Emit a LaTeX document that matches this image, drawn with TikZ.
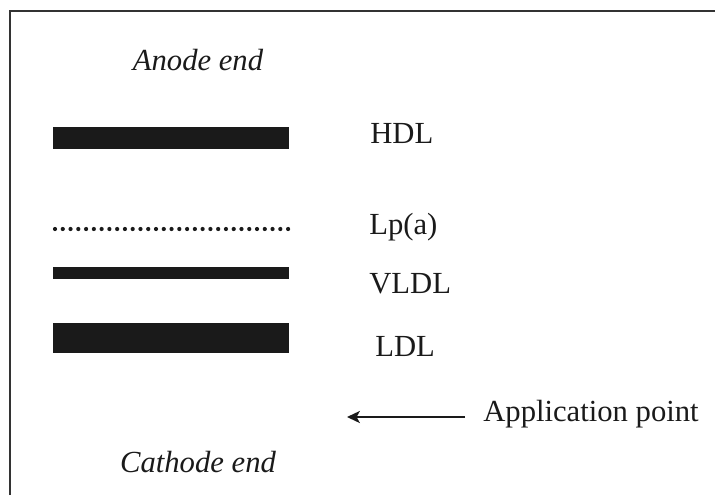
\documentclass[tikz,border=0pt]{standalone}
\usepackage{fontspec}
\setmainfont{Liberation Serif}
\usepackage{xcolor}
\usetikzlibrary{arrows.meta}

\definecolor{ink}{HTML}{1A1A1A}
\definecolor{frame}{HTML}{333333}

\begin{document}
\begin{tikzpicture}[
  x=0.025cm, y=-0.025cm,
  every node/.style={text=ink, font=\fontsize{21.8}{26}\selectfont, inner sep=0pt},
  band/.style={fill=ink, draw=none, minimum width=5.9cm, inner sep=0pt},
  label/.style={anchor=base west},
  pointer/.style={draw=ink, line width=1.6pt, -{Stealth[length=3.2mm, width=3mm, inset=0.8mm]}},
  ]
  \useasboundingbox (0,0) rectangle (715,495);
  % frame
  \draw[frame, line width=1.5pt] (10,495) -- (10,11) -- (715,11);
  % ends
  \node[anchor=base, font=\fontsize{21.8}{26}\selectfont\itshape] (anode) at (198,70) {Anode end};
  \node[anchor=base, font=\fontsize{21.8}{26}\selectfont\itshape] (cathode) at (198,472) {Cathode end};
  % bands
  \node[band, minimum height=0.55cm] (hdl) at (171,138) {};
  \foreach \i in {0,...,30}
    \fill[ink] (55+7.77*\i,229) circle (2.1);
  \node[band, minimum height=0.3cm] (vldl) at (171,273) {};
  \node[band, minimum height=0.75cm] (ldl) at (171,338) {};
  % labels
  \node[label] (hdl label) at (370,143) {HDL};
  \node[label] (lpa label) at (369,234) {Lp(a)};
  \node[label] (vldl label) at (369,293) {VLDL};
  \node[label] (ldl label) at (375,356) {LDL};
  % application point
  \node[label] (app) at (483,421) {Application point};
  \coordinate (tail) at ([shift={(-18,-4)}]app.base west);
  \coordinate (tip) at ([shift={(-136,-4)}]app.base west);
  \draw[pointer] (tail) -- (tip);
\end{tikzpicture}
\end{document}
